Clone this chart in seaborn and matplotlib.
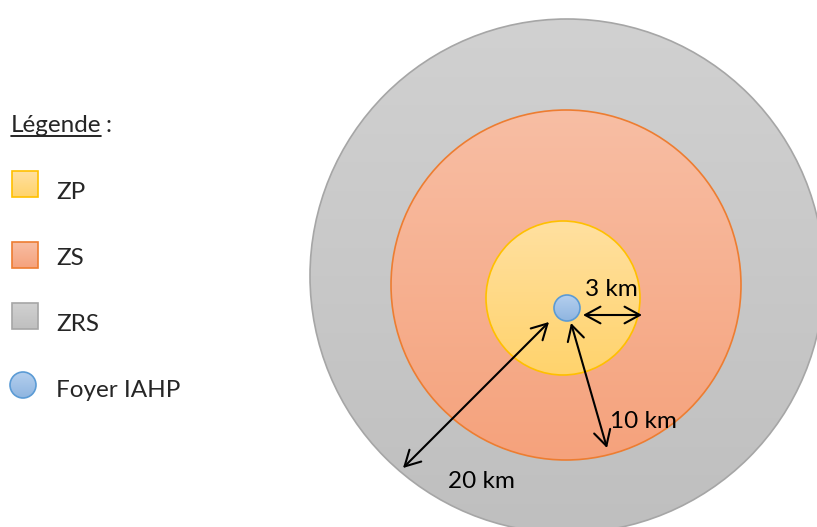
import numpy as np
import matplotlib.pyplot as plt
import matplotlib.patches as mpatches
import seaborn as sns

# zones, drawn from the outside in
zones = ['ZRS', 'ZS', 'ZP']
zone_km = [20, 10, 3]
zone_top = ['#d1d1d1', '#f8bea4', '#ffe0a0']
zone_bottom = ['#bfbfbf', '#f5a27c', '#ffd36c']
zone_edge = ['#a6a6a6', '#ed7d31', '#ffc000']
# circle geometry in pixels (x, y from the top left)
zone_cx = [567, 566, 563]
zone_cy = [276, 285, 298]
zone_r = [257, 175, 77]

focus_label = 'Foyer IAHP'
focus_top, focus_bottom, focus_edge = '#b4cfee', '#8fb5e0', '#5b9bd5'
focus_xy, focus_r = (567, 308), 13

legend_items = ['ZP', 'ZS', 'ZRS']
legend_y = [184, 255, 316]
legend_base = [199, 265, 331]

W, H = 817, 527

sns.set_style('white')
plt.rcParams['font.family'] = ['Lato', 'DejaVu Sans']
FS = 17.5

fig = plt.figure(figsize=(W / 100, H / 100), dpi=100)
ax = fig.add_axes([0, 0, 1, 1])
ax.set_xlim(0, W)
ax.set_ylim(H, 0)
ax.set_aspect('equal')
ax.axis('off')


def gradient_shape(patch, top, bottom, x0, x1, y0, y1, z):
    # vertical gradient clipped to the patch
    cmap = sns.blend_palette([top, bottom], as_cmap=True)
    ax.add_patch(patch)
    img = ax.imshow(np.linspace(0, 1, 256).reshape(-1, 1), cmap=cmap, aspect='auto',
                    extent=(x0, x1, y1, y0), zorder=z, interpolation='bilinear')
    img.set_clip_path(patch)
    return img


for i, z in enumerate(zones):
    cx, cy, r = zone_cx[i], zone_cy[i], zone_r[i]
    circ = mpatches.Circle((cx, cy), r, facecolor='none', edgecolor='none', zorder=1 + i * 2)
    gradient_shape(circ, zone_top[i], zone_bottom[i], cx - r, cx + r, cy - r, cy + r, 1 + i * 2)
    ax.add_patch(mpatches.Circle((cx, cy), r, facecolor='none', edgecolor=zone_edge[i],
                                 lw=1.2, zorder=2 + i * 2))

fx, fy = focus_xy
fc = mpatches.Circle((fx, fy), focus_r, facecolor='none', edgecolor='none', zorder=8)
gradient_shape(fc, focus_top, focus_bottom, fx - focus_r, fx + focus_r, fy - focus_r, fy + focus_r, 8)
ax.add_patch(mpatches.Circle((fx, fy), focus_r, facecolor='none', edgecolor=focus_edge, lw=1.2, zorder=9))

# distance arrows
arrows = [((583, 315), (642, 315)), ((571, 323), (607, 448)), ((549, 322), (403, 468))]
labels_xy = [(585, 296), (610, 428), (448, 488)]
for (a, b), (tx, ty), km in zip(arrows, labels_xy, zone_km[::-1]):
    ax.annotate('', xy=b, xytext=a,
                arrowprops=dict(arrowstyle='<->,head_length=0.55,head_width=0.3', lw=1.5,
                                color='black', shrinkA=0, shrinkB=0, mutation_scale=20), zorder=10)
    ax.text(tx, ty, f'{km} km', fontsize=FS, va='baseline', ha='left', color='black', zorder=11)

# legend
t = ax.text(11, 132, 'Légende', fontsize=FS, va='baseline', ha='left')
fig.canvas.draw()
bb = t.get_window_extent().transformed(ax.transData.inverted())
ax.text(bb.x1 + 4, 132, ':', fontsize=FS, va='baseline', ha='left')
ax.plot([11, bb.x1], [136, 136], color='black', lw=1.2)

for i, name in enumerate(legend_items):
    zi = zones.index(name)
    y0 = legend_y[i] - 13
    sq = mpatches.Rectangle((12, y0), 26, 26, facecolor='none', edgecolor='none', zorder=3)
    gradient_shape(sq, zone_top[zi], zone_bottom[zi], 12, 38, y0, y0 + 26, 3)
    ax.add_patch(mpatches.Rectangle((12, y0), 26, 26, facecolor='none', edgecolor=zone_edge[zi],
                                    lw=1.2, zorder=4))
    ax.text(56, legend_base[i], name, fontsize=FS, va='baseline', ha='left')

lc = mpatches.Circle((23, 385), 13, facecolor='none', edgecolor='none', zorder=3)
gradient_shape(lc, focus_top, focus_bottom, 10, 36, 372, 398, 3)
ax.add_patch(mpatches.Circle((23, 385), 13, facecolor='none', edgecolor=focus_edge, lw=1.2, zorder=4))
ax.text(56, 397, focus_label, fontsize=FS, va='baseline', ha='left')

fig.savefig('out.png', dpi=100)
